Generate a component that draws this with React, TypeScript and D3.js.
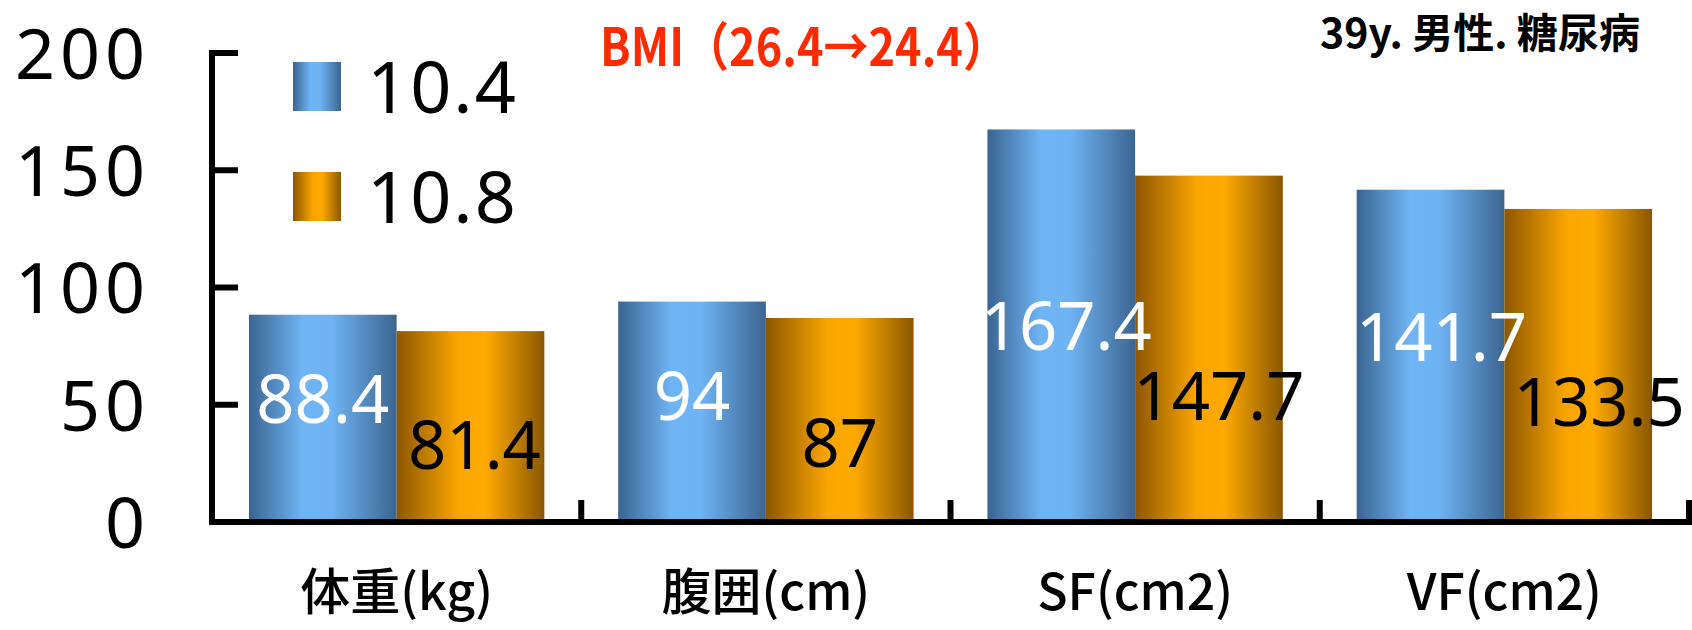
import React from 'react';
import * as d3 from 'd3';

// Measurements per category, two visits
const categories = ['体重(kg)', '腹囲(cm)', 'SF(cm2)', 'VF(cm2)'];
const seriesNames = ['10.4', '10.8'];
const valuesFirst = [88.4, 94, 167.4, 141.7];
const valuesSecond = [81.4, 87, 147.7, 133.5];
const yTicks = [0, 50, 100, 150, 200];
const titleText = 'BMI（26.4→24.4）';
const noteText = '39y. 男性. 糖尿病';

// Level (axis units) at which each value label is centred
const labelLevelFirst = [52.5, 53.7, 83.6, 78.9];
const labelLevelSecond = [32.8, 33.5, 53.7, 51.2];

const W = 1692;
const H = 630;
const CJK_FONT = '"Noto Sans CJK JP", "Noto Sans", sans-serif';
const NUM_FONT = '"Noto Sans", "Open Sans", sans-serif';
const CAP = 0.714; // cap/digit height of the numeric font, in em

// baseline that vertically centres digits on a given y
const centreBaseline = (cy: number, fs: number) => cy + (CAP * fs) / 2;

export default function App() {
  const left = 212;
  const right = 1689;
  const y = d3.scaleLinear().domain([0, 200]).range([522, 53]);
  const x0 = d3.scaleBand<string>().domain(categories).range([left, right]).paddingInner(0.2).paddingOuter(0.1);
  const x1 = d3.scaleBand<string>().domain(seriesNames).range([0, x0.bandwidth()]);
  const step = x0.step();
  const series = [valuesFirst, valuesSecond];
  const levels = [labelLevelFirst, labelLevelSecond];
  const labelColors = ['#ffffff', '#000000'];
  const gradIds = ['gradBlue', 'gradOrange'];
  const nudge = [[0, 0, 5, 11], [4, 0, 10, 21]];
  const baseY = y(0);

  const valueFs = 67;
  const tickFs = 70;
  const legendFs = 72;

  return (
    <svg width={W} height={H} style={{ position: 'absolute', left: 0, top: 0, background: '#fff' }}>
      <defs>
        <linearGradient id="gradBlue" x1="0" x2="1" y1="0" y2="0">
          <stop offset="0" stopColor="#3a6490" />
          <stop offset="0.36" stopColor="#6fb4f4" />
          <stop offset="0.56" stopColor="#6eb3f3" />
          <stop offset="1" stopColor="#3c6590" />
        </linearGradient>
        <linearGradient id="gradOrange" x1="0" x2="1" y1="0" y2="0">
          <stop offset="0" stopColor="#8c5700" />
          <stop offset="0.42" stopColor="#fba600" />
          <stop offset="0.6" stopColor="#ffaa00" />
          <stop offset="1" stopColor="#8a5800" />
        </linearGradient>
      </defs>

      {/* bars */}
      {categories.map((c, ci) =>
        series.map((vals, si) => (
          <rect
            key={c + si}
            x={(x0(c) as number) + (x1(seriesNames[si]) as number)}
            y={y(vals[ci])}
            width={x1.bandwidth()}
            height={baseY - y(vals[ci])}
            fill={`url(#${gradIds[si]})`}
          />
        ))
      )}

      {/* value labels */}
      {categories.map((c, ci) =>
        series.map((vals, si) => {
          const txt = String(vals[ci]);
          const cx = (x0(c) as number) + (x1(seriesNames[si]) as number) + x1.bandwidth() / 2 + nudge[si][ci];
          return (
            <text
              key={'l' + c + si}
              x={cx}
              y={centreBaseline(y(levels[si][ci]), valueFs)}
              textAnchor="middle"
              fontFamily={NUM_FONT}
              fontSize={valueFs}
              fill={labelColors[si]}
            >
              {txt}
            </text>
          );
        })
      )}

      {/* y axis */}
      <line x1={left} x2={left} y1={y(200) - 3} y2={baseY + 3} stroke="#000" strokeWidth={6} />
      {yTicks.filter((t) => t > 0).map((t) => (
        <line key={'t' + t} x1={left} x2={left + 26} y1={y(t)} y2={y(t)} stroke="#000" strokeWidth={6} />
      ))}
      {yTicks.map((t) => (
        <text
          key={'yl' + t}
          x={150}
          y={centreBaseline(y(t) + 1, tickFs)}
          textAnchor="end"
          fontFamily={NUM_FONT}
          fontSize={tickFs}
          letterSpacing={5}
          fill="#000"
        >
          {t}
        </text>
      ))}

      {/* x axis */}
      <line x1={left - 3} x2={W} y1={baseY} y2={baseY} stroke="#000" strokeWidth={6} />
      {categories.map((c) => {
        const bx = (x0(c) as number) + x0.bandwidth() + (step - x0.bandwidth()) / 2;
        return <line key={'xt' + c} x1={bx} x2={bx} y1={baseY} y2={baseY - 22} stroke="#000" strokeWidth={6} />;
      })}
      {categories.map((c) => (
        <text
          key={'xl' + c}
          x={(x0(c) as number) + x0.bandwidth() / 2}
          y={588}
          textAnchor="middle"
          dominantBaseline="central"
          fontFamily={CJK_FONT}
          fontWeight={500}
          fontSize={50}
          fill="#000"
        >
          {c}
        </text>
      ))}

      {/* legend */}
      {seriesNames.map((n, i) => (
        <g key={'lg' + n} transform={`translate(293, ${62 + i * 110})`}>
          <rect width={48} height={49} fill={`url(#${gradIds[i]})`} />
          <text
            x={74}
            y={centreBaseline(25, legendFs)}
            fontFamily={NUM_FONT}
            fontSize={legendFs}
            letterSpacing={2}
            fill="#000"
          >
            {n}
          </text>
        </g>
      ))}

      {/* annotations */}
      <text
        x={600}
        y={43}
        dominantBaseline="central"
        fontFamily={CJK_FONT}
        fontWeight={700}
        fontSize={52}
        fill="#ff2a00"
        textLength={408}
        lengthAdjust="spacingAndGlyphs"
      >
        {titleText}
      </text>
      <text
        x={1320}
        y={48}
        fontFamily={CJK_FONT}
        fontWeight={700}
        fontSize={41}
        fill="#000"
        textLength={320}
        lengthAdjust="spacingAndGlyphs"
      >
        {noteText}
      </text>
    </svg>
  );
}
